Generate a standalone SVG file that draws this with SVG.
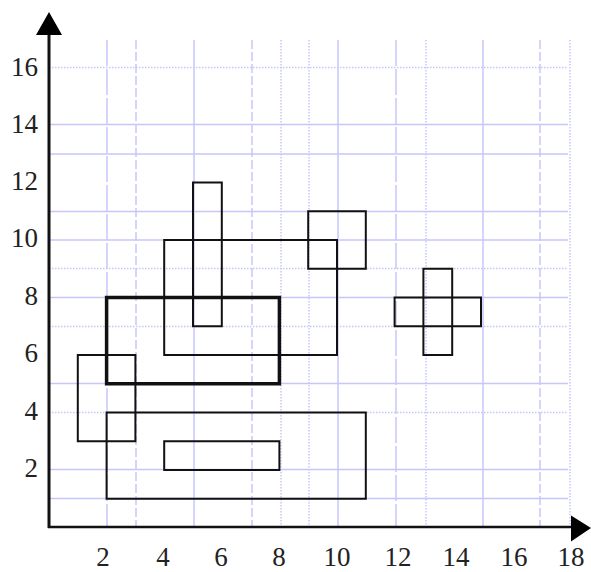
<svg xmlns="http://www.w3.org/2000/svg" width="591" height="572" viewBox="0 0 591 572">
<style>
.g{stroke:#c6c6fc;stroke-width:1.5;fill:none}
.ld{stroke-dasharray:26 3}
.d{stroke-dasharray:9 3}
.t{stroke-dasharray:1.5 1.5}
.r{fill:none;stroke:#111;stroke-width:2}
.rt{fill:none;stroke:#111;stroke-width:3.5}
.ax{stroke:#111;fill:none}
</style>
<rect width="591" height="572" fill="#fff"/>
<g id="grid">
<line class="g ld" x1="107" y1="40" x2="107" y2="527"/>
<line class="g d" x1="136" y1="40" x2="136" y2="527"/>
<line class="g" x1="194" y1="40" x2="194" y2="527"/>
<line class="g d" x1="252" y1="40" x2="252" y2="527"/>
<line class="g t" x1="281" y1="40" x2="281" y2="527"/>
<line class="g t" x1="309" y1="40" x2="309" y2="527"/>
<line class="g" x1="338" y1="40" x2="338" y2="527"/>
<line class="g ld" x1="396" y1="40" x2="396" y2="527"/>
<line class="g t" x1="426" y1="40" x2="426" y2="527"/>
<line class="g" x1="483" y1="40" x2="483" y2="527"/>
<line class="g d" x1="540" y1="40" x2="540" y2="527"/>
<line class="g t" x1="570" y1="40" x2="570" y2="527"/>
<line class="g t" x1="49" y1="67.5" x2="568" y2="67.5"/>
<line class="g" x1="49" y1="124.5" x2="568" y2="124.5"/>
<line class="g" x1="49" y1="154" x2="568" y2="154"/>
<line class="g" x1="49" y1="211.5" x2="568" y2="211.5"/>
<line class="g" x1="49" y1="240" x2="568" y2="240"/>
<line class="g t" x1="49" y1="268.5" x2="568" y2="268.5"/>
<line class="g" x1="49" y1="297.5" x2="568" y2="297.5"/>
<line class="g t" x1="49" y1="326.5" x2="568" y2="326.5"/>
<line class="g" x1="49" y1="383.5" x2="568" y2="383.5"/>
<line class="g t" x1="49" y1="412.5" x2="568" y2="412.5"/>
<line class="g" x1="49" y1="469.5" x2="568" y2="469.5"/>
<line class="g" x1="49" y1="498.5" x2="568" y2="498.5"/>
</g>
<g id="axes">
<line class="ax" x1="49" y1="528" x2="49" y2="32" stroke-width="3"/>
<polygon points="49,12 36,35 62,35" fill="#000"/>
<line class="ax" x1="48" y1="527" x2="573" y2="527" stroke-width="2.5"/>
<polygon points="591,528 571,515.5 571,541.5" fill="#000"/>
</g>
<g id="labels" font-family="'Liberation Serif', 'Times New Roman', serif" font-size="27" fill="#222">
<g text-anchor="end">
<text x="38" y="76">16</text>
<text x="38" y="133">14</text>
<text x="38" y="190">12</text>
<text x="38" y="247">10</text>
<text x="38" y="305">8</text>
<text x="38" y="362">6</text>
<text x="38" y="420">4</text>
<text x="38" y="477">2</text>
</g>
<g text-anchor="middle">
<text x="103" y="566">2</text>
<text x="163" y="566">4</text>
<text x="221" y="566">6</text>
<text x="279" y="566">8</text>
<text x="337" y="566">10</text>
<text x="398" y="566">12</text>
<text x="456" y="566">14</text>
<text x="514" y="566">16</text>
<text x="571" y="566">18</text>
</g>
</g>
<g id="connectors"></g>
<g id="rect-tall"><rect class="r" x="193" y="182.5" width="28.8" height="143.75"/></g>
<g id="rect-big"><rect class="r" x="164.2" y="240" width="172.8" height="115"/></g>
<g id="rect-square"><rect class="r" x="308.2" y="211.25" width="57.6" height="57.5"/></g>
<g id="rect-thick"><rect class="rt" x="106.6" y="297.5" width="172.8" height="86.25"/></g>
<g id="rect-left"><rect class="r" x="77.8" y="355" width="57.6" height="86.25"/></g>
<g id="rect-bottom"><rect class="r" x="106.6" y="412.5" width="259.2" height="86.25"/></g>
<g id="rect-inner"><rect class="r" x="164.2" y="441.25" width="115.2" height="28.75"/></g>
<g id="cross">
<rect class="r" x="394.6" y="297.5" width="86.4" height="28.75"/>
<rect class="r" x="423.4" y="268.75" width="28.8" height="86.25"/>
</g>
</svg>
